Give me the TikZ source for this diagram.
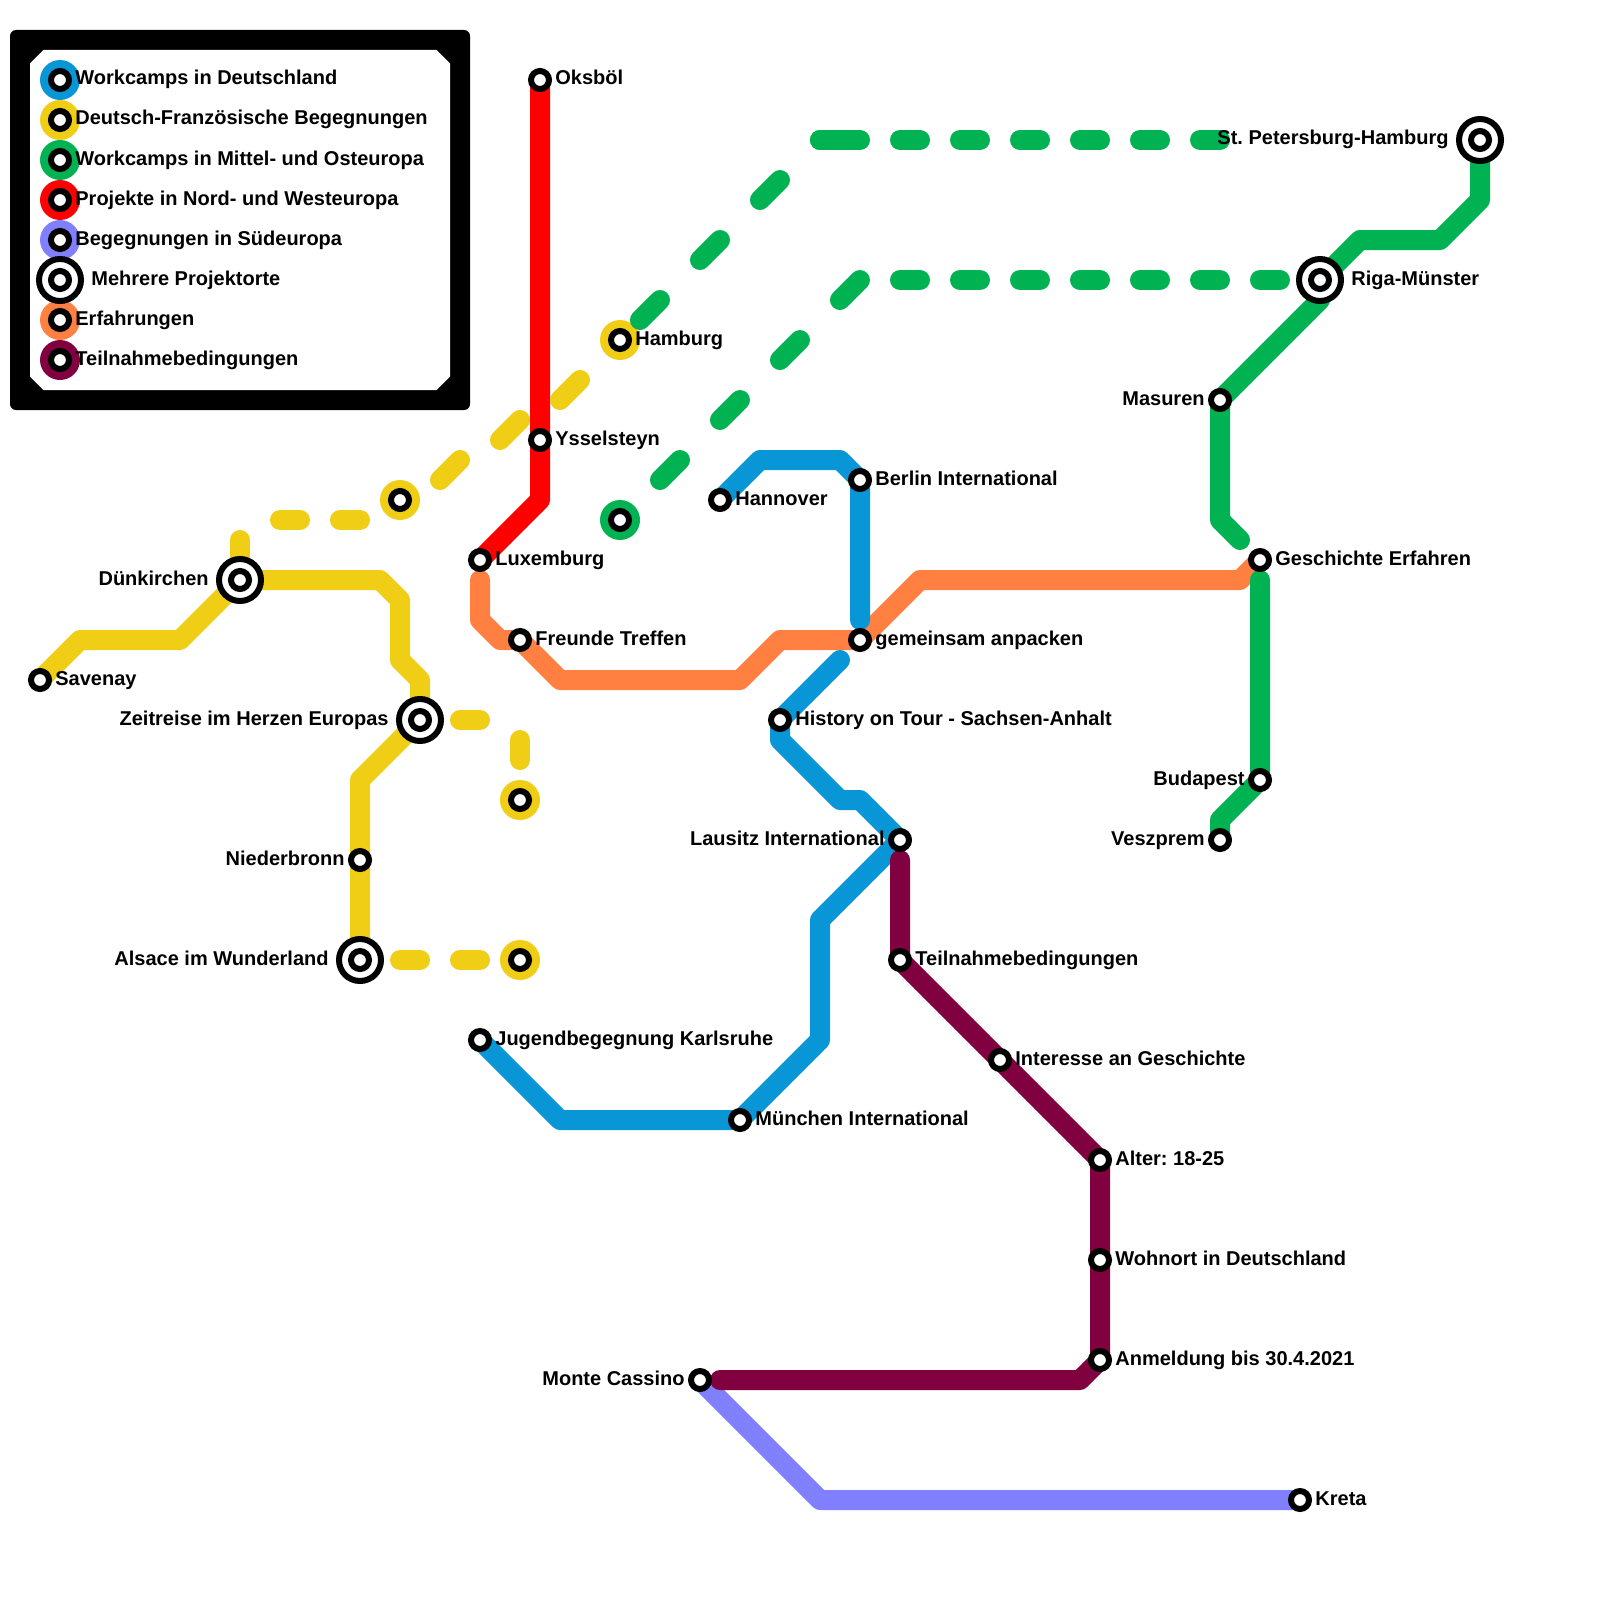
\documentclass[tikz,border=0pt]{standalone}
\usepackage{fontspec}
\setmainfont{Liberation Sans}
\usetikzlibrary{backgrounds}
\definecolor{lineblue}{HTML}{0896D7}
\definecolor{lineyellow}{HTML}{F0CE15}
\definecolor{linegreen}{HTML}{00B251}
\definecolor{linered}{HTML}{FF0000}
\definecolor{lineviolet}{HTML}{8080FF}
\definecolor{lineorange}{HTML}{FF8040}
\definecolor{lineplum}{HTML}{800040}
\frenchspacing
\tikzset{
  tag/.style={font=\fontsize{10}{12}\selectfont\bfseries, inner sep=0pt, text height=7pt, text depth=2pt, label distance=1.5pt},
  hubtag/.style={tag, label distance=3.5pt},
  stop/.style={circle, draw=black, fill=white, line width=3pt, inner sep=0pt, minimum size=9pt},
  hub/.style={circle, draw=black, fill=white, line width=3pt, inner sep=0pt, minimum size=21pt, label={[stop]center:}},
  disc/.style={circle, fill=#1, inner sep=0pt, minimum size=20pt},
  route/.style={draw=#1, line width=10pt, line cap=round, line join=round},
  flatdash/.style={dash pattern=on 10pt off 20pt, dash phase=#1},
  diagdash/.style={dash pattern=on 14.14pt off 28.28pt, dash phase=#1}
}
\begin{document}
\begin{tikzpicture}[x=10pt, y=-10pt]
    \useasboundingbox (0,0) rectangle (80,80);

    % Legend entries
    \node[stop, label={[tag]right:Workcamps in Deutschland}] (legblue) at (3,4) {};
    \node[stop, label={[tag]right:Deutsch-Französische Begegnungen}] (legyellow) at (3,6) {};
    \node[stop, label={[tag]right:Workcamps in Mittel- und Osteuropa}] (leggreen) at (3,8) {};
    \node[stop, label={[tag]right:Projekte in Nord- und Westeuropa}] (legred) at (3,10) {};
    \node[stop, label={[tag]right:Begegnungen in Südeuropa}] (legviolet) at (3,12) {};
    \node[hub, label={[hubtag]right:Mehrere Projektorte}] (leghub) at (3,14) {};
    \node[stop, label={[tag]right:Erfahrungen}] (legorange) at (3,16) {};
    \node[stop, label={[tag]right:Teilnahmebedingungen}] (legplum) at (3,18) {};

    % Stations on the yellow line
    \node[stop, label={[tag]right:Savenay}] (savenay) at (2,34) {};
    \node[hub, label={[hubtag]left:Dünkirchen}] (duenkirchen) at (12,29) {};
    \node[hub, label={[hubtag]left:Zeitreise im Herzen Europas}] (zeitreise) at (21,36) {};
    \node[stop, label={[tag]left:Niederbronn}] (niederbronn) at (18,43) {};
    \node[hub, label={[hubtag]left:Alsace im Wunderland}] (alsace) at (18,48) {};
    \node[stop] (yellowa) at (20,25) {};
    \node[stop, label={[tag]right:Hamburg}] (hamburg) at (31,17) {};
    \node[stop] (yellowb) at (26,40) {};
    \node[stop] (yellowc) at (26,48) {};

    % Stations on the red line
    \node[stop, label={[tag]right:Oksböl}] (oksboel) at (27,4) {};
    \node[stop, label={[tag]right:Ysselsteyn}] (ysselsteyn) at (27,22) {};
    \node[stop, label={[tag]right:Luxemburg}] (luxemburg) at (24,28) {};

    % Stations on the orange line
    \node[stop, label={[tag]right:Freunde Treffen}] (freunde) at (26,32) {};
    \node[stop, label={[tag]right:gemeinsam anpacken}] (anpacken) at (43,32) {};
    \node[stop, label={[tag]right:Geschichte Erfahren}] (geschichte) at (63,28) {};

    % Stations on the blue line
    \node[stop, label={[tag]right:Hannover}] (hannover) at (36,25) {};
    \node[stop, label={[tag]right:Berlin International}] (berlin) at (43,24) {};
    \node[stop, label={[tag]right:History on Tour - Sachsen-Anhalt}] (history) at (39,36) {};
    \node[stop, label={[tag]left:Lausitz International}] (lausitz) at (45,42) {};
    \node[stop, label={[tag]right:München International}] (muenchen) at (37,56) {};
    \node[stop, label={[tag]right:Jugendbegegnung Karlsruhe}] (karlsruhe) at (24,52) {};

    % Stations on the plum and violet lines
    \node[stop, label={[tag]right:Teilnahmebedingungen}] (teilnahme) at (45,48) {};
    \node[stop, label={[tag]right:Interesse an Geschichte}] (interesse) at (50,53) {};
    \node[stop, label={[tag]right:Alter: 18-25}] (alter) at (55,58) {};
    \node[stop, label={[tag]right:Wohnort in Deutschland}] (wohnort) at (55,63) {};
    \node[stop, label={[tag]right:Anmeldung bis 30.4.2021}] (anmeldung) at (55,68) {};
    \node[stop, label={[tag]left:Monte Cassino}] (cassino) at (35,69) {};
    \node[stop, label={[tag]right:Kreta}] (kreta) at (65,75) {};

    % Stations on the green line
    \node[stop] (greena) at (31,26) {};
    \node[hub, label={[hubtag]left:St. Petersburg-Hamburg}] (petersburg) at (74,7) {};
    \node[hub, label={[hubtag]right:Riga-Münster}] (riga) at (66,14) {};
    \node[stop, label={[tag]left:Masuren}] (masuren) at (61,20) {};
    \node[stop, label={[tag]left:Budapest}] (budapest) at (63,39) {};
    \node[stop, label={[tag]left:Veszprem}] (veszprem) at (61,42) {};

    % Free ends of the lines
    \coordinate (luxstart) at (24,29);
    \coordinate (berlinend) at (43,31);
    \coordinate (historystart) at (42,33);
    \coordinate (plumstart) at (45,43);
    \coordinate (plumend) at (36,69);
    \coordinate (greenend) at (62,27);
    \coordinate (greenstart) at (63,29);
    \coordinate (duenkup) at (12,27);
    \coordinate (duenkflat) at (13,26);
    \coordinate (duenkend) at (19,26);
    \coordinate (zeitend) at (25,36);
    \coordinate (zeitturn) at (26,36);
    \coordinate (uppercorner) at (41,7);
    \coordinate (upperflat) at (43,7);
    \coordinate (upperend) at (61,7);
    \coordinate (lowercorner) at (43,14);

    \begin{scope}[on background layer]
        % Legend frame
        \fill[black, rounded corners=3pt] (0.5,1.5) rectangle (23.5,20.5);
        \fill[white] (2.17,2.5) -- (21.83,2.5) -- (22.5,3.17) -- (22.5,18.83) -- (21.83,19.5)
            -- (2.17,19.5) -- (1.5,18.83) -- (1.5,3.17) -- cycle;

        % Colour discs
        \node[disc=lineblue] (discblue) at (legblue) {};
        \node[disc=lineyellow] (discyellow) at (legyellow) {};
        \node[disc=linegreen] (discgreen) at (leggreen) {};
        \node[disc=linered] (discred) at (legred) {};
        \node[disc=lineviolet] (discviolet) at (legviolet) {};
        \node[disc=lineorange] (discorange) at (legorange) {};
        \node[disc=lineplum] (discplum) at (legplum) {};
        \node[disc=lineyellow] (discyellowa) at (yellowa) {};
        \node[disc=lineyellow] (dischamburg) at (hamburg) {};
        \node[disc=lineyellow] (discyellowb) at (yellowb) {};
        \node[disc=lineyellow] (discyellowc) at (yellowc) {};
        \node[disc=linegreen] (discgreena) at (greena) {};

        % Red line
        \draw[route=linered] (oksboel.center) -- (ysselsteyn.center) -- (27,25) -- (luxemburg.center);

        % Orange line
        \draw[route=lineorange] (luxstart) -- (24,31) -- (25,32) -- (freunde.center) -- (28,34) -- (37,34)
            -- (39,32) -- (anpacken.center) -- (46,29) -- (62,29) -- (geschichte.center);

        % Blue lines
        \draw[route=lineblue] (hannover.center) -- (38,23) -- (42,23) -- (berlin.center) -- (berlinend);
        \draw[route=lineblue] (historystart) -- (history.center) -- (39,37) -- (42,40) -- (43,40) -- (lausitz.center)
            -- (41,46) -- (41,52) -- (muenchen.center) -- (28,56) -- (karlsruhe.center);

        % Yellow line
        \draw[route=lineyellow] (savenay.center) -- (4,32) -- (9,32) -- (duenkirchen.center) -- (19,29) -- (20,30)
            -- (20,33) -- (21,34) -- (zeitreise.center) -- (18,39) -- (niederbronn.center) -- (alsace.center);
        \draw[route=lineyellow, flatdash=20pt] (duenkirchen.center) -- (duenkup);
        \draw[route=lineyellow, flatdash=20pt] (duenkflat) -- (duenkend);
        \draw[route=lineyellow, flatdash=10pt] (zeitreise.center) -- (zeitend);
        \draw[route=lineyellow, flatdash=10pt] (yellowb.center) -- (zeitturn);
        \draw[route=lineyellow, flatdash=10pt] (alsace.center) -- (yellowc.center);
        \foreach \px/\py in {22/24, 25/22, 28/20}
            \draw[route=lineyellow] (\px,\py) -- ++(1,-1);

        % Violet line
        \draw[route=lineviolet] (cassino.center) -- (41,75) -- (kreta.center);

        % Green lines
        \draw[route=linegreen] (petersburg.center) -- (74,10) -- (72,12) -- (68,12) -- (riga.center)
            -- (66,15) -- (masuren.center) -- (61,26) -- (greenend);
        \draw[route=linegreen] (greenstart) -- (budapest.center) -- (61,41) -- (veszprem.center);
        \draw[route=linegreen, diagdash=28.28pt] (hamburg.center) -- (uppercorner);
        \draw[route=linegreen] (uppercorner) -- (upperflat);
        \draw[route=linegreen, flatdash=10pt] (upperflat) -- (upperend);
        \draw[route=linegreen, diagdash=14.14pt] (greena.center) -- (lowercorner);
        \draw[route=linegreen, flatdash=10pt] (lowercorner) -- (riga.center);

        % Plum line
        \draw[route=lineplum] (plumstart) -- (teilnahme.center) -- (interesse.center) -- (alter.center)
            -- (wohnort.center) -- (anmeldung.center) -- (54,69) -- (plumend);
    \end{scope}
\end{tikzpicture}
\end{document}
